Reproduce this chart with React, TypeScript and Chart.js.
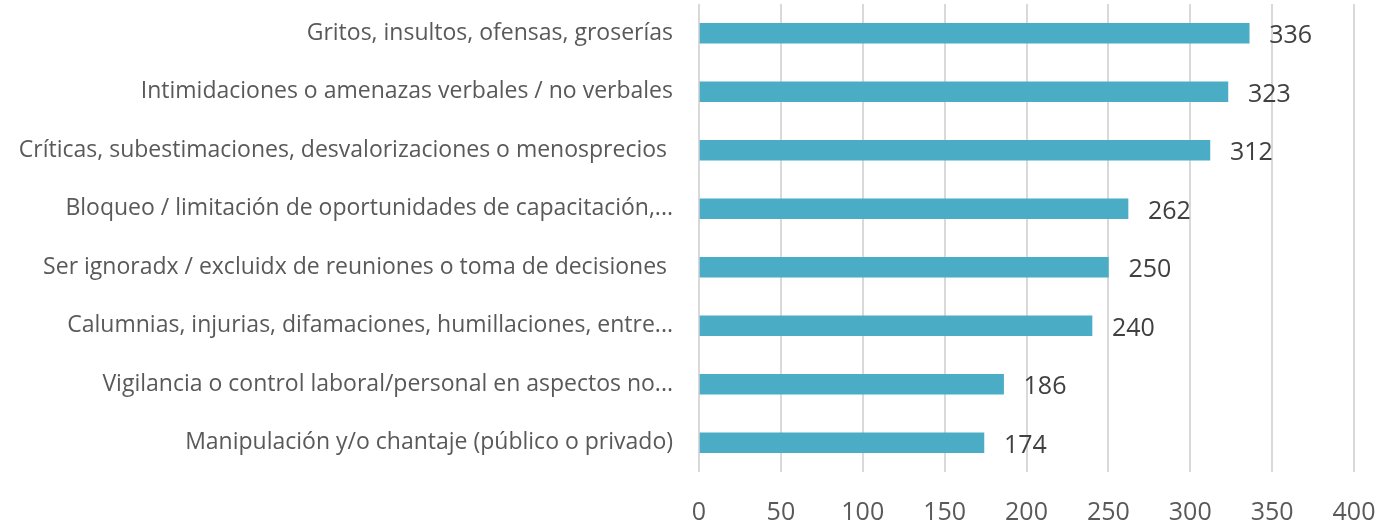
import React, { useEffect, useRef } from "react";
import { Chart, registerables } from "chart.js";

Chart.register(...registerables);

const categories = [
  "Gritos, insultos, ofensas, groserías",
  "Intimidaciones o amenazas verbales / no verbales",
  "Críticas, subestimaciones, desvalorizaciones o menosprecios ",
  "Bloqueo / limitación de oportunidades de capacitación,...",
  "Ser ignoradx / excluidx de reuniones o toma de decisiones ",
  "Calumnias, injurias, difamaciones, humillaciones, entre...",
  "Vigilancia o control laboral/personal en aspectos no...",
  "Manipulación y/o chantaje (público o privado)",
];
const values = [336, 323, 312, 262, 250, 240, 186, 174];
const xMin = 0;
const xMax = 400;
const xStep = 50;

const FONT = "'Open Sans', sans-serif";

const valueLabels = {
  id: "valueLabels",
  afterDatasetsDraw(chart: any) {
    const ctx = chart.ctx;
    const meta = chart.getDatasetMeta(0);
    ctx.save();
    ctx.font = `25px ${FONT}`;
    ctx.fillStyle = "#404040";
    ctx.textAlign = "left";
    ctx.textBaseline = "middle";
    meta.data.forEach((bar: any, i: number) => {
      ctx.fillText(String(values[i]), bar.x + 20, bar.y + 3);
    });
    ctx.restore();
  },
};

export default function App() {
  const ref = useRef<HTMLCanvasElement | null>(null);
  useEffect(() => {
    document.body.style.margin = "0";
    const chart = new Chart(ref.current!, {
      type: "bar",
      data: {
        labels: categories,
        datasets: [
          {
            data: values,
            backgroundColor: "#4BACC6",
            barThickness: 20,
          },
        ],
      },
      options: {
        indexAxis: "y",
        animation: false,
        responsive: false,
        layout: { padding: { top: 4, right: 32, left: 0, bottom: 0 } },
        plugins: { legend: { display: false }, tooltip: { enabled: false } },
        scales: {
          x: {
            min: xMin,
            max: xMax,
            ticks: {
              stepSize: xStep,
              font: { family: FONT, size: 25 },
              color: "#595959",
              padding: 26,
            },
            grid: { color: "#d9d9d9", lineWidth: 2, drawTicks: false },
            border: { display: false },
            afterFit(scale: any) {
              scale.height = 53;
              scale.paddingLeft = 0;
              scale.paddingRight = 0;
            },
          },
          y: {
            ticks: {
              font: { family: FONT, size: 23 },
              color: "#595959",
              padding: 26,
              autoSkip: false,
            },
            grid: { display: false, drawTicks: false },
            border: { display: false },
            afterFit(scale: any) {
              scale.width = 699;
              scale.paddingTop = 0;
              scale.paddingBottom = 0;
            },
          },
        },
      },
      plugins: [valueLabels],
    });
    return () => chart.destroy();
  }, []);
  return (
    <div style={{ position: "absolute", left: 0, top: 0, width: 1386, height: 525 }}>
      <canvas ref={ref} width={1386} height={525} />
    </div>
  );
}
